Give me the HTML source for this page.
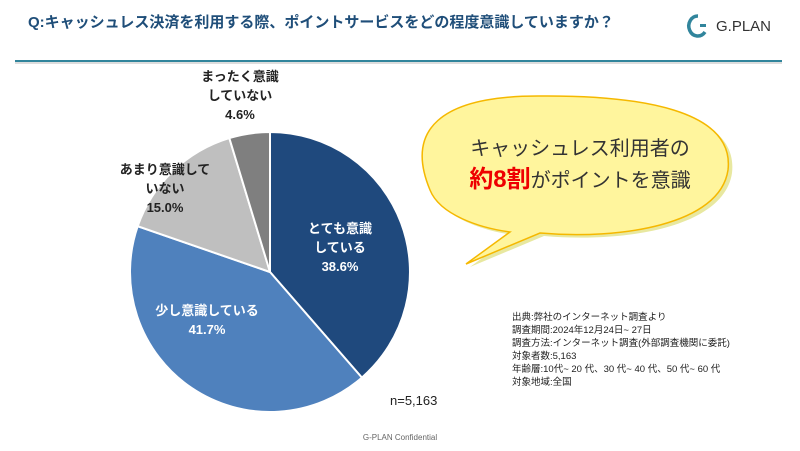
<!DOCTYPE html>
<html><head><meta charset="utf-8"><style>
body{margin:0;width:800px;height:446px;background:#fff;overflow:hidden;font-family:"Liberation Sans","Noto Sans CJK JP",sans-serif;}
</style></head><body>
<svg width="800" height="446" viewBox="0 0 800 446" xmlns="http://www.w3.org/2000/svg" style="font-family:'Liberation Sans','Noto Sans CJK JP',sans-serif">
<text x="28" y="27" font-size="15" font-weight="bold" fill="#1f4e79">Q:キャッシュレス決済を利用する際、ポイントサービスをどの程度意識していますか？</text>
<rect x="15" y="60" width="767" height="2" fill="#31859c"/>
<rect x="15" y="62" width="767" height="2" fill="#ddd"/>
<path d="M698 16 a9 10 0 1 0 7 16" stroke="#31859c" stroke-width="3.5" fill="none"/>
<rect x="700" y="24" width="6" height="3" fill="#31859c"/>
<text x="716" y="31" font-size="15" fill="#333">G.PLAN</text>
<g stroke="#fff" stroke-width="2">
<path d="M270 272 L270 132 A140 140 0 0 1 361.9 377.6 Z" fill="#1f497d"/>
<path d="M270 272 L361.9 377.6 A140 140 0 0 1 137.7 226.2 Z" fill="#4f81bd"/>
<path d="M270 272 L137.7 226.2 A140 140 0 0 1 229.3 138.1 Z" fill="#bfbfbf"/>
<path d="M270 272 L229.3 138.1 A140 140 0 0 1 270 132 Z" fill="#7f7f7f"/>
</g>
<g font-size="13" font-weight="bold" text-anchor="middle">
<text x="340" y="233" fill="#fff">とても意識</text>
<text x="340" y="252" fill="#fff">している</text>
<text x="340" y="271" fill="#fff">38.6%</text>
<text x="207" y="315" fill="#fff">少し意識している</text>
<text x="207" y="334" fill="#fff">41.7%</text>
<text x="165" y="174" fill="#222">あまり意識して</text>
<text x="165" y="193" fill="#222">いない</text>
<text x="165" y="212" fill="#222">15.0%</text>
<text x="240" y="81" fill="#222">まったく意識</text>
<text x="240" y="100" fill="#222">していない</text>
<text x="240" y="119" fill="#222">4.6%</text>
</g>
<text x="390" y="405" font-size="13" fill="#222">n=5,163</text>
<path d="M538 96 C440 96 405 130 430 190 C440 215 480 228 510 232 L466 264 L540 233 C620 240 720 225 728 170 C735 110 640 95 538 96 Z" fill="#e8e8a0" transform="translate(4,3)"/>
<path d="M538 96 C440 96 405 130 430 190 C440 215 480 228 510 232 L466 264 L540 233 C620 240 720 225 728 170 C735 110 640 95 538 96 Z" fill="#fff59d" stroke="#f5b800" stroke-width="1.5"/>
<text x="580" y="155" font-size="20" fill="#333" text-anchor="middle">キャッシュレス利用者の</text>
<text x="580" y="187" font-size="20" fill="#333" text-anchor="middle"><tspan fill="#e00" font-size="24" font-weight="bold">約8割</tspan>がポイントを意識</text>
<g font-size="9.5" fill="#222">
<text x="512" y="320">出典:弊社のインターネット調査より</text>
<text x="512" y="333">調査期間:2024年12月24日~ 27日</text>
<text x="512" y="346">調査方法:インターネット調査(外部調査機関に委託)</text>
<text x="512" y="359">対象者数:5,163</text>
<text x="512" y="372">年齢層:10代~ 20 代、30 代~ 40 代、50 代~ 60 代</text>
<text x="512" y="385">対象地域:全国</text>
</g>
<text x="400" y="440" font-size="8" fill="#666" text-anchor="middle">G-PLAN Confidential</text>
</svg>
</body></html>
